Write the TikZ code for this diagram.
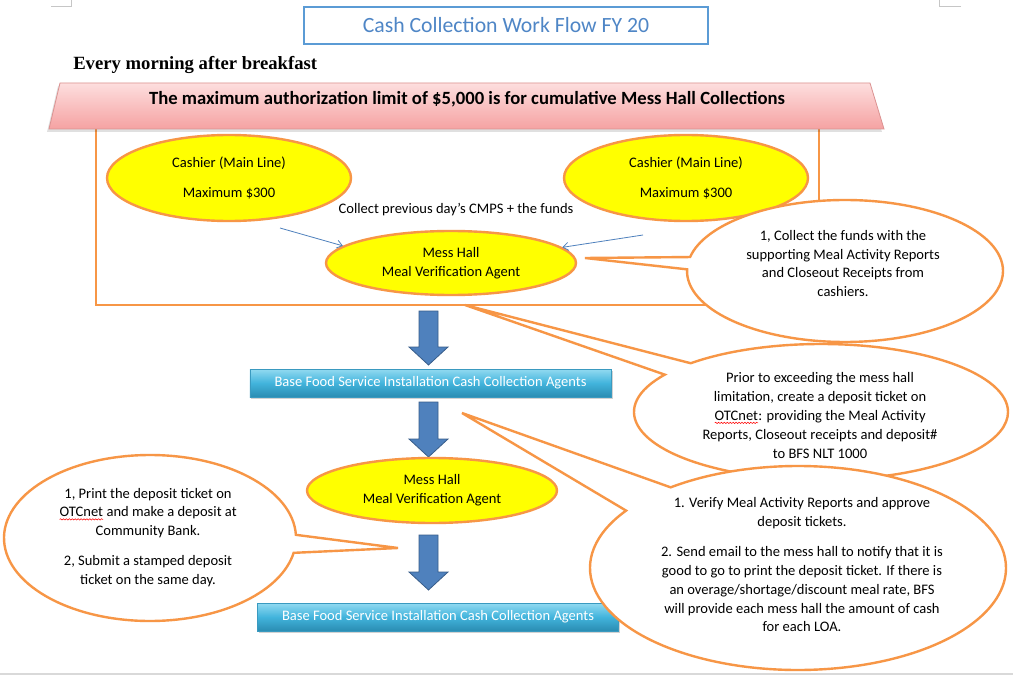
\documentclass[tikz,border=0pt]{standalone}
\usepackage{fontspec}
\setmainfont{Carlito}
\newfontfamily\headfont{Liberation Serif}
\usetikzlibrary{shapes.geometric,shapes.callouts,shadows,arrows.meta,decorations.pathmorphing}

\definecolor{mhorange}{HTML}{F79646}
\definecolor{mhyellow}{HTML}{FFFF00}
\definecolor{titleblue}{HTML}{4F86C6}
\definecolor{titleline}{HTML}{5B9BD5}
\definecolor{bannertop}{HTML}{FDDEDE}
\definecolor{bannerbot}{HTML}{F5A2A2}
\definecolor{bannerline}{HTML}{DB9291}
\definecolor{bfstop}{HTML}{92DAF1}
\definecolor{bfsmid}{HTML}{42B4DC}
\definecolor{bfsbot}{HTML}{2A8CB2}
\definecolor{bfsline}{HTML}{3A9AC0}
\definecolor{flowblue}{HTML}{4F81BD}
\definecolor{flowline}{HTML}{385D8A}
\definecolor{pagegray}{HTML}{D9D9D9}

\newcommand\wordfont{\fontsize{10.9}{14.1}\selectfont}
\newcommand\redwave[1]{\tikz[baseline=(w.base)]{%
  \node[inner sep=0pt, outer sep=0pt, draw=none, fill=none] (w) {#1};
  \draw[red, line width=0.4pt, decorate, decoration={snake, amplitude=0.5pt, segment length=2.2pt}]
    ([yshift=-1.8pt]w.base west) -- ([yshift=-1.8pt]w.base east);}}

\tikzset{
  agent/.style={ellipse, draw=mhorange, line width=1.8pt, fill=mhyellow,
    inner sep=0pt, align=center, font=\wordfont},
  bfsbox/.style={rectangle, draw=bfsline, line width=0.5pt,
    top color=bfstop, bottom color=bfsbot, middle color=bfsmid,
    text=white, font=\wordfont, inner sep=0pt,
    minimum width=271pt, minimum height=21pt,
    drop shadow={shadow xshift=1.2pt, shadow yshift=-1.5pt, opacity=0.35}},
  bubble/.style={ellipse callout, draw=mhorange, line width=1.8pt,
    fill=white, inner sep=0pt},
  notetext/.style={align=center, font=\wordfont},
  feed/.style={draw=flowblue, line width=0.6pt,
    -{Straight Barb[length=4pt,width=6pt]}},
}

\begin{document}
\begin{tikzpicture}[x=0.75pt,y=-0.75pt]
\useasboundingbox[fill=white] (0,0) rectangle (1013,677);
% page marks
\draw[gray!45, line width=0.6pt] (51,6) -- (71,6) -- (71,0);
\draw[gray!45, line width=0.6pt] (961,6) -- (939,6) -- (939,0);
\draw[pagegray, line width=1.5pt] (0,674) -- (1013,674);

% heading
\node[draw=titleline, line width=1pt, minimum width=303pt, minimum height=27.75pt,
  text=titleblue, font=\fontsize{16.3}{19}\selectfont] (title) at (506,25.5)
  {\raisebox{-1.2pt}{Cash Collection Work Flow FY 20}};
\node[anchor=west, inner sep=0pt, font=\headfont\bfseries\fontsize{14}{16}\selectfont]
  (morning) at (73,65) {Every morning after breakfast};

% frame and banner
\draw[mhorange, line width=1.8pt] (96,128) rectangle (819,305);
\fill[black, opacity=0.12] (58,86) -- (868,86) -- (882,132) -- (47,132) -- cycle;
\shadedraw[draw=bannerline, line width=0.6pt, top color=bannertop, bottom color=bannerbot]
  (60,83) -- (870,83) -- (884,129) -- (49,129) -- cycle;
\node[font=\bfseries\fontsize{14}{16}\selectfont] (limit) at (467,99)
  {The maximum authorization limit of \$5,000 is for cumulative Mess Hall Collections};

% cashiers and the first agent
\node[agent, minimum width=183pt, minimum height=64.5pt] (cash1) at (229,178)
  {Cashier (Main Line)\\[8.4pt]Maximum \$300};
\node[agent, minimum width=183pt, minimum height=64.5pt] (cash2) at (686,178)
  {Cashier (Main Line)\\[8.4pt]Maximum \$300};
\node[agent, minimum width=187.5pt, minimum height=48pt] (mh1) at (451,263)
  {Mess Hall\\Meal Verification Agent};
\node[font=\wordfont] (collect) at (456,210) {Collect previous day’s CMPS + the funds};
\coordinate (in1) at (280,228);
\coordinate (in2) at (643,235);
\draw[feed] (in1) -- (mh1.171);
\draw[feed] (in2) -- (mh1.8);

% block arrows
\foreach \ytop/\ytip in {311/365, 402/457, 535/590}
  \filldraw[fill=flowblue, draw=flowline, line width=0.6pt]
    (419,\ytop) -- (438,\ytop) -- (438,\ytip-18) -- (448,\ytip-18) -- (428.5,\ytip)
    -- (409,\ytip-18) -- (419,\ytip-18) -- cycle;

% lower chain
\node[bfsbox] (bfs1) at (430.5,383) {Base Food Service Installation Cash Collection Agents};
\node[agent, minimum width=187.5pt, minimum height=48.75pt] (mh2) at (432,490.5)
  {Mess Hall\\Meal Verification Agent};
\node[bfsbox] (bfs2) at (438,617) {Base Food Service Installation Cash Collection Agents};

% callouts
\node[bubble, minimum width=237pt, minimum height=106.5pt, callout pointer arc=10,
  callout absolute pointer={(585,258)}] (note1) at (845,271) {};
\node[notetext] (note1text) at (843,263.5)
  {1, Collect the funds with the\\supporting Meal Activity Reports\\and Closeout Receipts from\\cashiers.};

\node[bubble, minimum width=280.5pt, minimum height=102pt, callout pointer arc=12.5,
  callout absolute pointer={(465,305)}] (note2) at (821,412) {};
\node[notetext] (note2text) at (820,415.5)
  {Prior to exceeding the mess hall\\limitation, create a deposit ticket on\\\redwave{OTCnet}: providing the Meal Activity\\Reports, Closeout receipts and deposit\#\\to BFS NLT 1000};

\node[bubble, minimum width=312pt, minimum height=153pt, callout pointer arc=18,
  callout absolute pointer={(462,413)}] (note3) at (798,568) {};
\node[notetext] (note3text) at (802,565)
  {1. Verify Meal Activity Reports and approve\\deposit tickets.\\[8.4pt]2. Send email to the mess hall to notify that it is\\good to go to print the deposit ticket. If there is\\an overage/shortage/discount meal rate, BFS\\will provide each mess hall the amount of cash\\for each LOA.};

\node[bubble, minimum width=219pt, minimum height=124.5pt, callout pointer arc=12.5,
  callout absolute pointer={(398,548)}] (note4) at (150,538) {};
\node[notetext] (note4text) at (148,537.5)
  {1, Print the deposit ticket on\\\redwave{OTCnet} and make a deposit at\\Community Bank.\\[8.4pt]2, Submit a stamped deposit\\ticket on the same day.};
\end{tikzpicture}
\end{document}
